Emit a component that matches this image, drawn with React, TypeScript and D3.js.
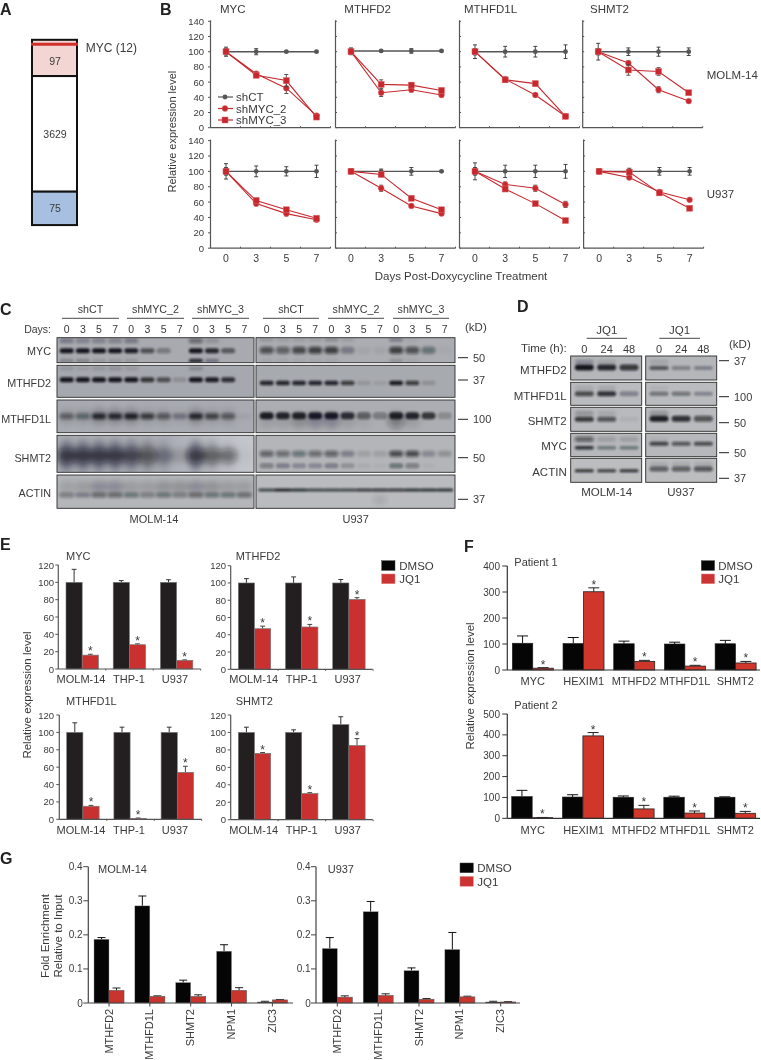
import React from "react";
import * as d3 from "d3";

const FONT = "'Liberation Sans', Arial, sans-serif";
const INK = "#3a3a3a";
const RED = "#c6282e";
const days = ["0", "3", "5", "7"];

// ---------- Panel A
const vennLabels = ["97", "3629", "75"];
const vennValues = [97, 3629, 75];
const vennFills = ["#f3d5d3", "#ffffff", "#a7c0e2"];

// ---------- Panel B
const bGenes = ["MYC", "MTHFD2", "MTHFD1L", "SHMT2"];
const bCells = ["MOLM-14", "U937"];
const bCT = [
  [[100, 100, 100, 100], [101, 101, 101, 101], [100, 100, 100, 100], [100, 100, 100, 100]],
  [[100, 100, 100, 100], [100, 100, 100, 100], [100, 100, 100, 100], [100, 100, 100, 100]],
];
const bCTErr = [
  [[6, 4, 1, 1], [4, 1, 3, 1], [9, 7, 7, 9], [11, 5, 6, 5]],
  [[10, 7, 6, 8], [3, 3, 5, 1], [11, 8, 8, 9], [3, 4, 5, 5]],
];
const bSh2 = [
  [[100, 71, 52, 16], [100, 46, 50, 43], [100, 64, 43, 15], [100, 85, 50, 35]],
  [[100, 58, 45, 37], [100, 78, 55, 45], [100, 83, 78, 57], [100, 92, 73, 63]],
];
const bSh2Err = [
  [[4, 3, 7, 2], [3, 5, 3, 2], [4, 2, 2, 1], [4, 3, 4, 2]],
  [[5, 3, 3, 2], [3, 4, 2, 2], [5, 3, 4, 4], [3, 2, 3, 1]],
];
const bSh3 = [
  [[100, 69, 62, 14], [100, 57, 56, 49], [100, 63, 58, 15], [100, 76, 74, 46]],
  [[100, 62, 50, 39], [100, 96, 65, 50], [100, 77, 58, 36], [100, 99, 72, 52]],
];
const bSh3Err = [
  [[4, 3, 8, 2], [4, 6, 3, 3], [4, 3, 3, 1], [4, 7, 5, 2]],
  [[4, 3, 2, 2], [3, 3, 2, 2], [4, 2, 2, 1], [3, 3, 3, 1]],
];
const bLegend = ["shCT", "shMYC_2", "shMYC_3"];
const bYTicks = [0, 20, 40, 60, 80, 100, 120, 140];

// ---------- Panel C
const cProteins = ["MYC", "MTHFD2", "MTHFD1L", "SHMT2", "ACTIN"];
const cGroups = ["shCT", "shMYC_2", "shMYC_3"];
const cMain = [
  [[.95, .95, .95, .95, .9, .6, .35, 0, .95, .85, .55, 0], [.6, .5, .65, .7, .7, .3, .05, .05, .7, .6, .4, .03]],
  [[.95, .95, .95, .95, .95, .75, .6, .15, .95, .9, .8, 0], [.85, .85, .85, .85, .85, .7, .12, .08, .9, .7, .15, 0]],
  [[.45, .4, .8, .8, .85, .7, .5, .3, .8, .65, .5, .05], [.9, .85, .85, .9, .9, .8, .5, .35, .9, .85, .75, .2]],
  [[.6, .6, .6, .6, .55, .45, .3, .15, .6, .45, .45, .03], [.5, .45, .4, .45, .5, .3, .12, .12, .65, .65, .25, .2]],
  [[.35, .3, .45, .45, .4, .35, .4, .35, .45, .4, .4, .45], [.7, .9, .8, .7, .7, .7, .75, .75, .75, .8, .8, .8]],
];
const cSecond = [
  [[.3, .25, .25, .25, .3, 0, 0, 0, .45, .15, 0, 0], [.15, .1, .1, .1, .2, .1, 0, 0, .3, .05, 0, 0]],
  [[.12, .08, .12, .15, .1, 0, 0, 0, .2, 0, 0, 0], [0, 0, 0, 0, 0, 0, 0, 0, 0, 0, 0, 0]],
  [[.1, .1, .2, .2, .2, .1, .1, .05, .2, .1, .1, 0], [.1, .1, .2, .25, .25, .1, .05, 0, .35, .1, 0, 0]],
  [[.3, .3, .3, .3, .25, .2, .1, 0, .3, .15, .05, 0], [.35, .3, .25, .25, .3, .2, .05, .03, .4, .35, .03, 0]],
  [[.12, .15, .25, .25, .15, .15, .2, .2, .25, .2, .15, .15], [0, 0, 0, 0, 0, 0, 0, .1, 0, 0, 0, 0]],
];
const cThird = [[.2, .2, .1, .1, .1, 0, 0, 0, .8, .3, 0, 0], [.05, .05, .05, .05, .05, 0, 0, 0, .15, .05, 0, 0]];
const cBackground = [
  ["#a8aab0", "#abadb2"],
  ["#a5a8ae", "#a7aaaf"],
  ["#a9abb2", "#acaeb3"],
  ["url(#shmtBg)", "#b3b5b9"],
  ["#b5b6ba", "#b9bbbe"],
];
const cMarkers = ["50", "37", "100", "50", "37"];

// ---------- Panel D
const dProteins = ["MTHFD2", "MTHFD1L", "SHMT2", "MYC", "ACTIN"];
const dHours = ["0", "24", "48"];
const dMain = [
  [[.95, .85, .75], [.6, .35, .3]],
  [[.65, .8, .3], [.45, .45, .3]],
  [[.75, .6, .05], [.9, .8, .6]],
  [[.8, .4, .4], [.7, .6, .65]],
  [[.8, .75, .8], [.55, .55, .6]],
];
const dUpper = [
  [[.25, .1, 0], [.1, 0, 0]],
  [[.1, .1, 0], [.05, 0, 0]],
  [[.2, .1, 0], [.2, 0, 0]],
  [[.55, .15, .15], [.05, 0, 0]],
  [[0, 0, 0], [.1, .1, .1]],
];
const dMarkers = ["37", "100", "50", "50", "37"];
const dBackground = ["#b4b6ba", "#b9bbbe", "#b8babd", "#b6b8bb", "#bcbdbf"];

// ---------- Panel E
const eCells = ["MOLM-14", "THP-1", "U937"];
const eTitles = ["MYC", "MTHFD2", "MTHFD1L", "SHMT2"];
const eDmso = [[100, 100, 100], [100, 100, 100], [100, 100, 100], [100, 100, 109]];
const eDmsoErr = [[15, 2, 3], [5, 7, 4], [11, 6, 6], [6, 3, 9]];
const eJq1 = [[16, 28, 10], [47, 49, 81], [15, 1, 54], [76, 30, 85]];
const eJq1Err = [[1, 1, .5], [3, 3, 2], [1, .5, 7], [1, 1, 8]];
const eTicks = [0, 20, 40, 60, 80, 100, 120];

// ---------- Panel F
const fGenes = ["MYC", "HEXIM1", "MTHFD2", "MTHFD1L", "SHMT2"];
const fDmso = [[103, 102, 101, 100, 101], [104, 102, 101, 101, 101]];
const fDmsoErr = [[28, 23, 10, 7, 13], [30, 11, 6, 5, 2]];
const fJq1 = [[7, 301, 33, 15, 27], [3, 395, 45, 25, 24]];
const fJq1Err = [[2, 15, 4, 3, 6], [1, 16, 17, 10, 9]];
const fTicks = [[0, 100, 200, 300, 400], [0, 100, 200, 300, 400, 500]];

// ---------- Panel G
const gGenes = ["MTHFD2", "MTHFD1L", "SHMT2", "NPM1", "ZIC3"];
const gDmso = [[.187, .285, .06, .152, .003], [.16, .268, .095, .157, .003]];
const gDmsoErr = [[.005, .029, .007, .019, .002], [.032, .03, .008, .05, .002]];
const gJq1 = [[.037, .019, .019, .037, .009], [.017, .022, .011, .018, .003]];
const gJq1Err = [[.007, .002, .005, .008, .001], [.004, .005, .002, .002, .001]];
const gTicks = [0, .1, .2, .3, .4];

function T({ x, y, s = 11, a = "start", w = 400, rot, c = INK, children }: any) {
  return (
    <text
      x={x} y={y} fontSize={s} textAnchor={a} fontWeight={w} fill={c} fontFamily={FONT}
      dominantBaseline="central"
      transform={rot != null ? `rotate(${rot} ${x} ${y})` : undefined}
    >{children}</text>
  );
}

function PanelLetter({ x, y, children }: any) {
  return <text x={x} y={y} fontSize={16} fontWeight={700} fill="#222" fontFamily={FONT}>{children}</text>;
}

function Venn() {
  const h = d3.scalePow().exponent(0.32).domain([0, 3629]).range([0, 115.6]);
  let y = 39.8;
  const left = 32, width = 45;
  const secs = vennValues.map((v, i) => {
    const sec = { y, height: h(v), fill: vennFills[i], label: vennLabels[i] };
    y += sec.height;
    return sec;
  });
  return (
    <g>
      {secs.map((s, i) => (
        <g key={i}>
          <rect x={left} y={s.y} width={width} height={s.height} fill={s.fill} stroke="#111" strokeWidth={2} />
          <T x={left + width / 2 + 0.5} y={s.y + s.height / 2 + (i === 0 ? 3 : 0)} s={10.5} a="middle">{s.label}</T>
        </g>
      ))}
      <line x1={left - 1} x2={left + width + 1} y1={44.3} y2={44.3} stroke="#d0302a" strokeWidth={3} />
      <T x={85.7} y={47.7} s={12}>MYC (12)</T>
    </g>
  );
}

function Marker({ kind, x, y, color }: any) {
  if (kind === "square") return <rect x={x - 3} y={y - 3} width={6} height={6} fill={color} stroke="#e06a6a" strokeWidth={0.5} />;
  if (kind === "circle") return <circle cx={x} cy={y} r={2.9} fill={color} stroke="#e06a6a" strokeWidth={0.5} />;
  return <circle cx={x} cy={y} r={2.4} fill={color} />;
}

function LinePanel({ x0, top, bottom, width, r, c }: any) {
  const xs = d3.scalePoint().domain(days).range([x0 + 15.5, x0 + 106]);
  const ys = d3.scaleLinear().domain([0, 140]).range([bottom, top]);
  const line = d3.line<number>().x((_, i) => xs(days[i]) as number).y((d) => ys(d));
  const series = [
    { v: bCT[r][c], e: bCTErr[r][c], col: "#555", kind: "ct", err: "#333", w: 1.4 },
    { v: bSh2[r][c], e: bSh2Err[r][c], col: RED, kind: "circle", err: "#444", w: 1.1 },
    { v: bSh3[r][c], e: bSh3Err[r][c], col: RED, kind: "square", err: "#444", w: 1.1 },
  ];
  const boundaries = d3.range(1, 5).map((i) => x0 + (i * width) / 4);
  return (
    <g>
      {series.map((s, k) => (
        <g key={k}>
          {s.v.map((d: number, i: number) => {
            const x = xs(days[i]) as number;
            return (
              <g key={i} stroke={s.err} strokeWidth={0.9}>
                <line x1={x} x2={x} y1={ys(d + s.e[i])} y2={ys(d - s.e[i])} />
                <line x1={x - 2} x2={x + 2} y1={ys(d + s.e[i])} y2={ys(d + s.e[i])} />
                <line x1={x - 2} x2={x + 2} y1={ys(d - s.e[i])} y2={ys(d - s.e[i])} />
              </g>
            );
          })}
          <path d={line(s.v) as string} fill="none" stroke={s.col} strokeWidth={s.w} />
          {s.v.map((d: number, i: number) => (
            <Marker key={i} kind={s.kind} x={xs(days[i])} y={ys(d)} color={s.col} />
          ))}
        </g>
      ))}
      <line x1={x0} x2={x0} y1={top - 1} y2={bottom} stroke="#555" strokeWidth={1.2} />
      <line x1={x0} x2={x0 + width} y1={bottom} y2={bottom} stroke="#555" strokeWidth={1.2} />
      {bYTicks.map((t) => (
        <line key={t} x1={x0 - (c === 0 ? 2.5 : 0)} x2={x0 + (c === 0 ? 0 : 1.5)} y1={ys(t)} y2={ys(t)} stroke="#555" strokeWidth={1} />
      ))}
      {boundaries.map((b, i) => <line key={i} x1={b} x2={b} y1={bottom - 1.5} y2={bottom} stroke="#555" strokeWidth={1} />)}
      {c === 0 && bYTicks.map((t) => <T key={t} x={204} y={ys(t)} s={9.5} a="end">{t}</T>)}
      {r === 1 && days.map((d) => <T key={d} x={xs(d)} y={258.3} s={10.5} a="middle">{d}</T>)}
    </g>
  );
}

function PanelB() {
  const cols = [[210.5, 335.5, 459.5, 582.7], [210.5, 335.5, 459.5, 583.6]];
  const rows = [[21.3, 127.7], [140.6, 248.2]];
  const titleX = [220, 344.3, 464, 590];
  const legendY = [97, 108.5, 120];
  const legendKinds = ["ct", "circle", "square"];
  const legendCols = ["#555", RED, RED];
  return (
    <g>
      {bGenes.map((g, i) => <T key={g} x={titleX[i]} y={9} s={11.5}>{g}</T>)}
      {rows.map((rw, r) => cols[r].map((x0, c) => (
        <LinePanel key={`${r}-${c}`} x0={x0} top={rw[0]} bottom={rw[1]} width={120} r={r} c={c} />
      )))}
      {legendY.map((y, i) => (
        <g key={i}>
          <line x1={218} x2={233} y1={y} y2={y} stroke={legendCols[i]} strokeWidth={1.2} />
          <Marker kind={legendKinds[i]} x={225} y={y} color={legendCols[i]} />
          <T x={236} y={y} s={11.5}>{bLegend[i]}</T>
        </g>
      ))}
      <T x={172.3} y={131.6} s={11} a="middle" rot={-90}>Relative expression level</T>
      <T x={461} y={276} s={11.5} a="middle">Days Post-Doxycycline Treatment</T>
      <T x={706.7} y={75} s={11.5}>{bCells[0]}</T>
      <T x={706.7} y={194} s={11.5}>{bCells[1]}</T>
    </g>
  );
}

function Blot({ id, x, y, w, h, bg, lanes, values, bands, bandW }: any) {
  const lane = d3.scalePoint<number>().domain(d3.range(lanes[2])).range([lanes[0], lanes[1]]);
  return (
    <g>
      <clipPath id={id}><rect x={x} y={y} width={w} height={h} /></clipPath>
      <rect x={x} y={y} width={w} height={h} fill={bg} />
      <g clipPath={`url(#${id})`}>
        {bands.map((b: any, k: number) => (
          <g key={k} filter={`url(#blur${b.blur})`}>
            {values[k].map((v: number, i: number) => {
              const bw = bandW * (b.wf ?? 1);
              return v > 0 ? (
                <rect
                  key={i} x={(lane(i) as number) - bw / 2} y={y + h * b.at - b.t / 2}
                  width={bw} height={b.t} rx={b.t / 2} fill="#101116" opacity={v}
                />
              ) : null;
            })}
          </g>
        ))}
      </g>
      <rect x={x} y={y} width={w} height={h} fill="none" stroke="#2a2a2a" strokeWidth={0.9} />
    </g>
  );
}

function PanelC() {
  const rowsY = [[337.7, 362.7], [365.3, 397.3], [400, 432.7], [435.3, 472.3], [475, 508.3]];
  const side = [
    { x: 57, w: 197, lanes: [66.7, 244.3, 12] },
    { x: 256, w: 199, lanes: [266.7, 444.7, 12] },
  ];
  const layouts = [
    [[{ at: .52, t: 5, blur: 1 }, { at: .12, t: 5, blur: 2 }, { at: .92, t: 4, blur: 1 }], [{ at: .5, t: 7, blur: 2 }, { at: .08, t: 4, blur: 2 }, { at: .92, t: 4, blur: 2 }]],
    [[{ at: .45, t: 5, blur: 1 }, { at: .1, t: 4, blur: 2 }], [{ at: .55, t: 4.5, blur: 1 }, { at: .1, t: 3, blur: 2 }]],
    [[{ at: .5, t: 6, blur: 2 }, { at: .5, t: 18, blur: 3, wf: 1.2 }], [{ at: .48, t: 7, blur: 1 }, { at: .62, t: 16, blur: 3, wf: 1.2 }]],
    [[{ at: .55, t: 15, blur: 3, wf: 1.25 }, { at: .55, t: 32, blur: 3, wf: 1.25 }], [{ at: .5, t: 6, blur: 2 }, { at: .82, t: 5, blur: 1 }]],
    [[{ at: .6, t: 5, blur: 2, wf: 1.1 }, { at: .35, t: 12, blur: 3, wf: 1.2 }], [{ at: .45, t: 3, blur: 1, wf: 1.2 }, { at: .75, t: 8, blur: 3 }]],
  ];
  const groupSpans = [[62, 119], [127, 184], [192, 249], [263, 319], [328, 384], [393, 449]];
  const markerY = [357.7, 380, 419.3, 457.7, 499.3];
  const lane = side.map((s) => d3.scalePoint<number>().domain(d3.range(12)).range([s.lanes[0], s.lanes[1]]));
  return (
    <g>
      {groupSpans.map((sp, i) => (
        <g key={i}>
          <T x={(sp[0] + sp[1]) / 2} y={309} s={10.7} a="middle">{cGroups[i % 3]}</T>
          <line x1={sp[0]} x2={sp[1]} y1={318.3} y2={318.3} stroke="#333" strokeWidth={0.9} />
        </g>
      ))}
      <T x={51} y={329} s={10.5} a="end">Days:</T>
      {lane.map((l, s) => d3.range(12).map((i) => (
        <T key={`${s}-${i}`} x={l(i)} y={329} s={10.5} a="middle">{days[i % 4]}</T>
      )))}
      <T x={465} y={326.7} s={11.5}>(kD)</T>
      {cProteins.map((p, r) => (
        <g key={p}>
          <T x={51} y={r === 0 ? 351 : r === 1 ? 383 : r === 2 ? 419 : r === 3 ? 457.5 : 493} s={10.8} a="end">{p}</T>
          {side.map((sd, s) => {
            const vals = [cMain[r][s], cSecond[r][s]];
            if (r === 0) vals.push(cThird[s]);
            return (
              <Blot
                key={s} id={`c${r}${s}`} x={sd.x} y={rowsY[r][0]} w={sd.w} h={rowsY[r][1] - rowsY[r][0]}
                bg={cBackground[r][s]} lanes={sd.lanes} values={vals} bands={layouts[r][s]} bandW={14}
              />
            );
          })}
          <line x1={458} x2={468} y1={markerY[r]} y2={markerY[r]} stroke="#222" strokeWidth={1} />
          <T x={473} y={markerY[r]} s={11}>{cMarkers[r]}</T>
        </g>
      ))}
      <T x={154} y={519} s={11} a="middle">MOLM-14</T>
      <T x={355.7} y={519} s={11} a="middle">U937</T>
    </g>
  );
}

function PanelD() {
  const rowsY = [[356, 380], [382.3, 405.3], [407.3, 431.3], [433.3, 456.7], [458.3, 482.3]];
  const side = [
    { x: 570.7, w: 71, lanes: [584.3, 629, 3] },
    { x: 645.7, w: 71, lanes: [659, 703.3, 3] },
  ];
  const mainAt = [[.48, .5], [.5, .5], [.5, .48], [.62, .45], [.52, .45]];
  const mainT = [[6, 4], [5, 4], [5, 6], [3.5, 4], [3, 5]];
  const markerY = [360.7, 396.7, 422.7, 452.7, 478.3];
  const labelY = [370, 396, 421, 445.5, 472];
  const lane = side.map((s) => d3.scalePoint<string>().domain(dHours).range([s.lanes[0], s.lanes[1]]));
  return (
    <g>
      {[[586.7, 627], [659.3, 700]].map((sp, i) => (
        <g key={i}>
          <T x={(sp[0] + sp[1]) / 2} y={330} s={11.5} a="middle">JQ1</T>
          <line x1={sp[0]} x2={sp[1]} y1={338.3} y2={338.3} stroke="#333" strokeWidth={0.9} />
        </g>
      ))}
      <T x={566.7} y={347.7} s={11.5} a="end">Time (h):</T>
      {lane.map((l, s) => dHours.map((h) => <T key={`${s}${h}`} x={l(h)} y={348.5} s={11} a="middle">{h}</T>))}
      <T x={729} y={344} s={11.5}>(kD)</T>
      {dProteins.map((p, r) => (
        <g key={p}>
          <T x={566.7} y={labelY[r]} s={11.5} a="end">{p}</T>
          {side.map((sd, s) => (
            <Blot
              key={s} id={`d${r}${s}`} x={sd.x} y={rowsY[r][0]} w={sd.w} h={rowsY[r][1] - rowsY[r][0]}
              bg={dBackground[r]} lanes={sd.lanes} values={[dMain[r][s], dUpper[r][s]]}
              bands={[{ at: mainAt[r][s], t: mainT[r][s], blur: 1 }, { at: .25, t: 5, blur: 2 }]} bandW={19}
            />
          ))}
          <line x1={719} x2={729} y1={markerY[r]} y2={markerY[r]} stroke="#222" strokeWidth={1} />
          <T x={734} y={markerY[r]} s={11}>{dMarkers[r]}</T>
        </g>
      ))}
      <T x={606.7} y={491.7} s={11.5} a="middle">MOLM-14</T>
      <T x={681} y={491.7} s={11.5} a="middle">U937</T>
    </g>
  );
}

function Bars({
  axisX, right, top, bottom, yMax, ticks, tickX, tickSize, tickFont, groups, d, dErr, j, jErr, stars,
  first, step, barW, capW, styleD, styleJ, axisColor, fmt,
}: any) {
  const gap = step - 2 * barW;
  const outer = d3.scaleBand<string>().domain(groups)
    .range([first, first + step * groups.length - gap])
    .paddingInner(gap / step).paddingOuter(0).align(0);
  const inner = d3.scaleBand<string>().domain(["d", "j"]).range([0, outer.bandwidth()]);
  const y = d3.scaleLinear().domain([0, yMax]).range([bottom, top]);
  const drawSet = (key: string, vals: number[], errs: number[], st: any) => vals.map((v, i) => {
    const x = (outer(groups[i]) as number) + (inner(key) as number);
    const w = inner.bandwidth();
    const cx = x + w / 2;
    const ty = y(v + errs[i]);
    return (
      <g key={key + i}>
        <line x1={cx} x2={cx} y1={ty} y2={y(v)} stroke={st.err} strokeWidth={1} />
        <line x1={cx - capW / 2} x2={cx + capW / 2} y1={ty} y2={ty} stroke={st.err} strokeWidth={1} />
        <rect x={x} y={y(v)} width={w} height={Math.max(0, bottom - y(v))} fill={st.fill} stroke={st.stroke} strokeWidth={st.sw} />
        {stars && key === "j" ? (
          <text x={cx} y={ty + 1} fontSize={12} textAnchor="middle" fill={INK} fontFamily={FONT}>*</text>
        ) : null}
      </g>
    );
  });
  return (
    <g>
      {drawSet("d", d, dErr, styleD)}
      {drawSet("j", j, jErr, styleJ)}
      <line x1={axisX} x2={axisX} y1={top} y2={bottom} stroke={axisColor} strokeWidth={1.2} />
      <line x1={axisX} x2={right} y1={bottom} y2={bottom} stroke={axisColor} strokeWidth={1.2} />
      {ticks.map((t: number) => (
        <g key={t}>
          <line x1={axisX - tickSize} x2={axisX} y1={y(t)} y2={y(t)} stroke={axisColor} strokeWidth={1} />
          <T x={tickX} y={y(t)} s={tickFont} a="end">{fmt ? fmt(t) : t}</T>
        </g>
      ))}
    </g>
  );
}

function Legend({ x, ys, textX }: any) {
  const names = ["DMSO", "JQ1"];
  const cols = ["#050505", "#cc3333"];
  return (
    <g>
      {names.map((n, i) => (
        <g key={n}>
          <rect x={x} y={ys[i]} width={13.3} height={9.7} fill={cols[i]} stroke={i ? "#e08080" : "#444"} strokeWidth={0.5} />
          <T x={textX} y={ys[i] + 5} s={11.5}>{n}</T>
        </g>
      ))}
    </g>
  );
}

function PanelE() {
  const layouts = [
    { axisX: 58.3, right: 200.7, top: 565, bottom: 669, first: 66, tickX: 54, titleX: 66, titleY: 555.7, labelsY: 679.3, lx: [81, 129, 175] },
    { axisX: 230.7, right: 372.7, top: 565.7, bottom: 669.3, first: 238.3, tickX: 226, titleX: 235.7, titleY: 555.7, labelsY: 679.3, lx: [253.7, 301.7, 347.7] },
    { axisX: 59.3, right: 201.7, top: 715, bottom: 819.3, first: 66.7, tickX: 54, titleX: 66, titleY: 701, labelsY: 830, lx: [81, 129, 175] },
    { axisX: 230.7, right: 372.7, top: 715, bottom: 819.7, first: 238.3, tickX: 226, titleX: 235.7, titleY: 701, labelsY: 830, lx: [253.7, 301.7, 347.7] },
  ];
  return (
    <g>
      {layouts.map((l, i) => (
        <g key={i}>
          <Bars
            {...l} yMax={120} ticks={eTicks} tickSize={3} tickFont={9.5} groups={eCells}
            d={eDmso[i]} dErr={eDmsoErr[i]} j={eJq1[i]} jErr={eJq1Err[i]} stars={true}
            step={47.2} barW={16.2} capW={4.8} axisColor="#555"
            styleD={{ fill: "#231f20", stroke: "#777", sw: 0.6, err: "#333" }}
            styleJ={{ fill: "#c93030", stroke: "#777", sw: 0.7, err: "#444" }}
          />
          <T x={l.titleX} y={l.titleY} s={11}>{eTitles[i]}</T>
          {eCells.map((c, k) => <T key={c} x={l.lx[k]} y={l.labelsY} s={11} a="middle">{c}</T>)}
          {d3.range(1, 4).map((k) => (
            <line key={k} x1={l.axisX + k * 47.47} x2={l.axisX + k * 47.47} y1={l.bottom} y2={l.bottom + 1.5} stroke="#555" />
          ))}
        </g>
      ))}
      <T x={27} y={695} s={11.5} a="middle" rot={-90}>Relative expression level</T>
      <Legend x={381.7} ys={[560.7, 574]} textX={399.3} />
    </g>
  );
}

function PanelF() {
  const layouts = [
    { top: 566, bottom: 670, yMax: 400, labelsY: 680.7, first: 512.3, titleY: 561.7, title: "Patient 1" },
    { top: 714, bottom: 818.3, yMax: 500, labelsY: 830, first: 511.7, titleY: 705, title: "Patient 2" },
  ];
  const lx = [532.7, 583.7, 634, 685, 735.3];
  return (
    <g>
      {layouts.map((l, i) => (
        <g key={i}>
          <Bars
            axisX={507.3} right={760} top={l.top} bottom={l.bottom} yMax={l.yMax} ticks={fTicks[i]} tickX={500} tickSize={5}
            tickFont={10} groups={fGenes} d={fDmso[i]} dErr={fDmsoErr[i]} j={fJq1[i]} jErr={fJq1Err[i]} stars={true}
            first={l.first} step={50.7} barW={20.5} capW={11} axisColor="#333"
            styleD={{ fill: "#050505", stroke: "#222", sw: 0.6, err: "#111" }}
            styleJ={{ fill: "#d0362a", stroke: "#222", sw: 0.8, err: "#222" }}
          />
          <T x={514.3} y={l.titleY} s={11}>{l.title}</T>
          {fGenes.map((g, k) => <T key={g} x={lx[k]} y={l.labelsY} s={11} a="middle">{g}</T>)}
        </g>
      ))}
      <T x={470} y={686} s={11.5} a="middle" rot={-90}>Relative expression level</T>
      <Legend x={701.3} ys={[560.7, 574]} textX={718.3} />
    </g>
  );
}

function PanelG() {
  const layouts = [
    { axisX: 88.3, right: 293, first: 94, tickX: 82.7, title: "MOLM-14", titleX: 98 },
    { axisX: 316, right: 520, first: 322.3, tickX: 310.7, title: "U937", titleX: 327.7 },
  ];
  const bottom = 1003, top = 866.7;
  return (
    <g>
      {layouts.map((l, i) => {
        const step = 40.85;
        return (
          <g key={i}>
            <Bars
              axisX={l.axisX} right={l.right} top={top} bottom={bottom} yMax={.4} ticks={gTicks} tickX={l.tickX} tickSize={5}
              tickFont={10} groups={gGenes} d={gDmso[i]} dErr={gDmsoErr[i]} j={gJq1[i]} jErr={gJq1Err[i]} stars={false}
              first={l.first} step={step} barW={15} capW={8} axisColor="#444"
              fmt={(t: number) => (t === 0 ? "0" : t.toFixed(1))}
              styleD={{ fill: "#050505", stroke: "#999", sw: 0.4, err: "#111" }}
              styleJ={{ fill: "#c9352d", stroke: "#555", sw: 0.6, err: "#222" }}
            />
            <T x={l.titleX} y={869} s={11}>{l.title}</T>
            {gGenes.map((g, k) => {
              const cx = l.first + 15 + k * step;
              return (
                <g key={g}>
                  <line x1={cx} x2={cx} y1={bottom} y2={bottom + 3.5} stroke="#444" />
                  <T x={cx - 0.5} y={1009} s={11} a="end" rot={-90}>{g}</T>
                </g>
              );
            })}
          </g>
        );
      })}
      <T x={45} y={936} s={11.5} a="middle" rot={-90}>Fold Enrichment</T>
      <T x={58.3} y={936} s={11.5} a="middle" rot={-90}>Relative to Input</T>
      <Legend x={460} ys={[863, 876.5]} textX={477.3} />
    </g>
  );
}

export default function App() {
  return (
    <svg
      width={761} height={1060} viewBox="0 0 761 1060"
      style={{ position: "absolute", left: 0, top: 0, display: "block", background: "#fff", filter: "blur(0.35px)" }}
    >
      <defs>
        {[[1, 0.9], [2, 1.6], [3, 3]].map(([k, s]) => (
          <filter key={k} id={`blur${k}`} x="-10%" y="-100%" width="120%" height="300%">
            <feGaussianBlur stdDeviation={s} />
          </filter>
        ))}
        <linearGradient id="shmtBg" x1="0" x2="1" y1="0" y2="0">
          <stop offset="0.55" stopColor="#a9acb4" />
          <stop offset="0.85" stopColor="#bfc2c9" />
          <stop offset="1" stopColor="#c4c6cc" />
        </linearGradient>
      </defs>
      <PanelLetter x={0} y={14.6}>A</PanelLetter>
      <PanelLetter x={160} y={14.6}>B</PanelLetter>
      <PanelLetter x={0} y={315}>C</PanelLetter>
      <PanelLetter x={517} y={312}>D</PanelLetter>
      <PanelLetter x={0} y={550}>E</PanelLetter>
      <PanelLetter x={464} y={552}>F</PanelLetter>
      <PanelLetter x={0} y={864}>G</PanelLetter>
      <Venn />
      <PanelB />
      <PanelC />
      <PanelD />
      <PanelE />
      <PanelF />
      <PanelG />
    </svg>
  );
}
